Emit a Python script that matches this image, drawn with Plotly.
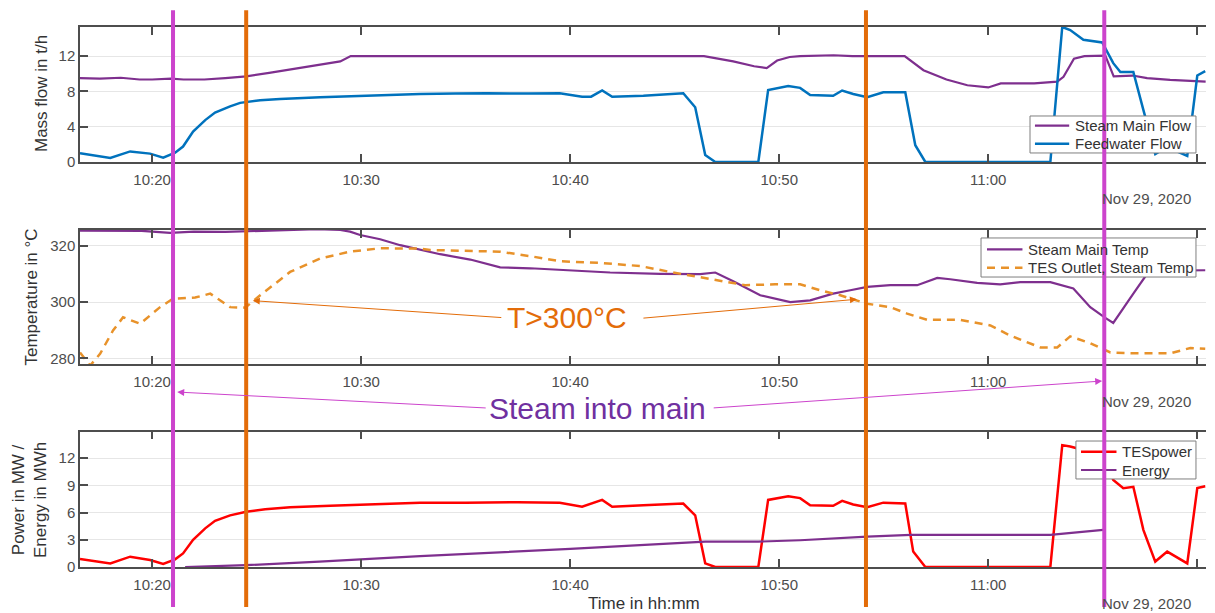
import numpy as np
import pandas as pd
import plotly.graph_objects as go

# ---- time base: values below are minutes after 10:00 on 29 Nov 2020 ----
BASE = pd.Timestamp("2020-11-29 10:00:00")


def to_time(minutes):
    return BASE + pd.to_timedelta(np.asarray(minutes, dtype=float), unit="min")


def ts(minutes):
    return (BASE + pd.to_timedelta(minutes, unit="min")).strftime("%Y-%m-%d %H:%M:%S")


# ---- mass flow panel ----
flow_t = [16.55, 17.5, 18.5, 19.4, 20.0, 20.9, 21.5, 22.5, 23.5, 24.5, 25.6, 26.6,
          27.5, 28.0, 29.0, 29.5, 30.0, 35.0, 40.0, 46.4, 47.8, 48.8, 49.4, 49.9,
          50.5, 51.0, 52.6, 53.5, 56.0, 56.9, 58.0, 59.0, 60.0, 60.6, 62.2, 63.3,
          63.6, 64.1, 64.6, 65.6, 66.0, 66.9, 67.6, 68.7, 70.4]
steam_main_flow = [9.5, 9.45, 9.55, 9.35, 9.35, 9.45, 9.35, 9.35, 9.5, 9.7, 10.1, 10.5,
                   10.8, 11.0, 11.4, 12.0, 12.0, 12.0, 12.0, 12.0, 11.4, 10.85, 10.65, 11.5,
                   11.9, 12.0, 12.1, 12.0, 12.0, 10.4, 9.35, 8.7, 8.45, 8.9, 8.9, 9.1,
                   9.65, 11.7, 12.0, 12.05, 9.7, 9.8, 9.5, 9.3, 9.1]

fw_t = [16.55, 18.0, 18.95, 19.9, 20.53, 21.1, 21.48, 21.96, 22.54, 23.01, 23.73, 24.21,
        25.17, 26.12, 28.04, 29.95, 32.82, 34.5, 36.0, 38.0, 39.5, 40.57, 41.0, 41.53,
        42.01, 43.5, 45.41, 45.98, 46.46, 46.94, 49.0, 49.47, 50.43, 51.0, 51.48, 52.58,
        53.01, 53.54, 54.21, 54.98, 56.03, 56.51, 56.99, 62.97, 63.54, 63.92, 64.55, 65.45,
        65.98, 66.32, 66.94, 67.42, 67.99, 68.56, 69.52, 70.0, 70.38]
feedwater_flow = [1.0, 0.45, 1.2, 0.95, 0.5, 1.05, 1.75, 3.45, 4.75, 5.6, 6.3, 6.7,
                  7.0, 7.15, 7.35, 7.5, 7.7, 7.75, 7.8, 7.75, 7.8, 7.4, 7.4, 8.1,
                  7.4, 7.5, 7.8, 6.2, 0.8, 0.0, 0.0, 8.15, 8.6, 8.4, 7.6, 7.5,
                  8.1, 7.7, 7.35, 7.9, 7.9, 1.9, 0.0, 0.0, 15.3, 14.95, 13.85, 13.55,
                  11.2, 10.2, 10.2, 5.9, 0.9, 1.7, 0.7, 9.8, 10.3]

# ---- temperature panel ----
tmain_t = [16.55, 18.0, 19.5, 20.86, 22.0, 23.5, 24.7, 26.0, 27.08, 27.89, 29.0, 29.47,
           29.95, 30.91, 31.87, 32.82, 33.78, 35.22, 36.65, 38.09, 40.0, 41.91, 44.31, 46.22,
           46.94, 47.8, 49.09, 50.53, 51.48, 52.58, 53.4, 54.21, 55.31, 56.6, 57.56, 58.18,
           59.47, 60.57, 61.53, 62.97, 64.07, 64.88, 65.6, 65.98, 66.94, 67.61, 68.5, 70.38]
steam_main_temp = [325.4, 325.3, 325.3, 324.6, 325.0, 324.9, 325.1, 325.4, 325.6, 325.9, 325.6, 325.0,
                   323.8, 322.3, 320.2, 318.5, 317.0, 315.1, 312.3, 312.0, 311.3, 310.5, 310.0, 309.9,
                   310.5, 307.4, 302.4, 300.0, 300.6, 303.0, 304.2, 305.4, 306.0, 306.0, 308.6, 308.1,
                   306.8, 306.3, 307.1, 307.1, 304.8, 298.2, 294.4, 292.6, 303.0, 310.1, 311.2, 311.3]

tes_t = [16.55, 17.03, 17.51, 18.13, 18.61, 19.43, 20.38, 21.0, 22.06, 22.78, 23.73, 24.45,
         25.17, 26.6, 28.04, 29.47, 30.91, 32.82, 33.3, 35.22, 36.65, 38.09, 39.52, 41.44,
         43.35, 44.78, 46.22, 47.18, 48.37, 49.81, 51.0, 51.96, 52.92, 54.21, 55.31, 56.12,
         57.08, 58.66, 60.1, 61.05, 62.49, 63.3, 63.92, 64.88, 65.84, 66.94, 68.71, 69.67,
         70.38]
tes_outlet_temp = [282.1, 277.4, 281.6, 289.9, 294.6, 292.3, 298.2, 301.2, 301.6, 303.0, 298.2, 298.0,
                   302.4, 310.7, 315.5, 317.9, 319.1, 319.0, 318.5, 318.1, 317.9, 316.3, 314.5, 313.9,
                   312.8, 310.7, 308.9, 307.5, 306.0, 306.3, 306.3, 304.2, 302.4, 299.4, 298.2, 295.9,
                   293.7, 293.7, 291.7, 288.1, 283.9, 283.9, 287.8, 285.4, 282.1, 281.8, 281.8, 283.7,
                   283.4]

# ---- power / energy panel ----
pw_t = [16.55, 18.0, 18.95, 19.9, 20.53, 21.1, 21.48, 21.96, 22.54, 23.01, 23.73, 24.5,
        25.41, 26.6, 28.52, 30.43, 32.82, 35.0, 37.5, 39.5, 40.57, 41.53, 42.01, 43.5,
        45.41, 45.98, 46.46, 46.94, 49.0, 49.47, 50.43, 51.0, 51.48, 52.58, 53.01, 53.54,
        54.21, 54.98, 56.03, 56.41, 56.99, 62.97, 63.54, 63.92, 64.55, 65.45, 65.98, 66.46,
        66.94, 67.42, 67.99, 68.56, 69.52, 70.0, 70.38]
tes_power = [0.88, 0.4, 1.14, 0.77, 0.33, 0.85, 1.5, 3.0, 4.26, 5.1, 5.7, 6.1,
             6.36, 6.6, 6.76, 6.9, 7.1, 7.1, 7.15, 7.1, 6.65, 7.4, 6.65, 6.8,
             7.0, 5.7, 0.4, 0.0, 0.0, 7.4, 7.8, 7.6, 6.8, 6.76, 7.3, 6.9,
             6.6, 7.1, 7.0, 1.7, 0.0, 0.0, 13.45, 13.3, 12.9, 12.5, 9.6, 8.7,
             8.85, 4.1, 0.6, 1.7, 0.4, 8.7, 8.9]

en_t = [21.58, 23.0, 24.5, 28.0, 32.82, 40.0, 46.46, 49.0, 51.0, 54.21, 56.3, 62.97, 65.5]
energy = [0.0, 0.06, 0.2, 0.6, 1.2, 2.0, 2.8, 2.8, 2.95, 3.35, 3.55, 3.55, 4.1]

# ---- event markers ----
steam_into_main_t = [21.0, 65.55]
above_300_t = [24.5, 54.15]

X_RANGE = [ts(16.55), ts(70.43)]

PURPLE = "#7E2F8E"
BLUE = "#0072BD"
RED = "#FF0000"
DASH_ORANGE = "#E8922A"
MARK_ORANGE = "#E36C09"
MAGENTA = "#CC44CC"
TEXT_PURPLE = "#7030A0"
AX = "#4d4d4d"
FONT = "Liberation Sans, Arial, sans-serif"

series_style = {
    "Steam Main Flow": dict(color=PURPLE, width=2.2),
    "Feedwater Flow": dict(color=BLUE, width=2.5),
    "Steam Main Temp": dict(color=PURPLE, width=2.2),
    "TES Outlet, Steam Temp": dict(color=DASH_ORANGE, width=2.5, dash="8px,6px"),
    "TESpower": dict(color=RED, width=2.5),
    "Energy": dict(color=PURPLE, width=2.2),
}

fig = go.Figure()

traces = [
    (flow_t, steam_main_flow, "Steam Main Flow", "x", "y"),
    (fw_t, feedwater_flow, "Feedwater Flow", "x", "y"),
    (tmain_t, steam_main_temp, "Steam Main Temp", "x2", "y2"),
    (tes_t, tes_outlet_temp, "TES Outlet, Steam Temp", "x2", "y2"),
    (pw_t, tes_power, "TESpower", "x3", "y3"),
    (en_t, energy, "Energy", "x3", "y3"),
]
for t, v, name, xa, ya in traces:
    fig.add_trace(go.Scatter(x=to_time(t), y=v, name=name, mode="lines",
                             line=series_style[name], xaxis=xa, yaxis=ya))

tickfont = dict(family=FONT, size=15, color=AX)

xcommon = dict(type="date", range=X_RANGE, tickformat="%H:%M", dtick=600000,
               tick0="2020-11-29 10:00:00", ticks="inside", ticklen=8, tickwidth=1.5,
               tickcolor=AX, showline=True, linecolor=AX, linewidth=1.5, mirror="ticks",
               showgrid=False, zeroline=False, tickfont=tickfont, ticklabelstandoff=3)
ycommon = dict(ticks="inside", ticklen=8, tickwidth=1.5, tickcolor=AX, showline=True,
               linecolor=AX, linewidth=1.5, mirror=False, showgrid=True,
               gridcolor="#e6e6e6", gridwidth=1, zeroline=False, tickfont=tickfont)

fig.update_layout(
    width=1215, height=613,
    margin=dict(l=80, r=9, t=27, b=46),
    paper_bgcolor="white", plot_bgcolor="white",
    font=dict(family=FONT, color=AX),
    showlegend=False,
    xaxis=dict(domain=[0, 1], anchor="y", **xcommon),
    xaxis2=dict(domain=[0, 1], anchor="y2", **xcommon),
    xaxis3=dict(domain=[0, 1], anchor="y3", **xcommon),
    yaxis=dict(domain=[0.75, 1.0], anchor="x", range=[0, 15.3], tickvals=[0, 4, 8, 12], **ycommon),
    yaxis2=dict(domain=[0.3759, 0.6241], anchor="x2", range=[278.0, 325.6],
                tickvals=[280, 300, 320], **ycommon),
    yaxis3=dict(domain=[0, 0.2506], anchor="x3", range=[0, 14.93],
                tickvals=[0, 3, 6, 9, 12], **ycommon),
)

annotations = []
legend_font = dict(family=FONT, size=15, color="#333333")

# boxed legends in the upper right corner of each panel
legend_boxes = [
    # (box x0, x1, y0, y1, sample x0, x1, text x, [(row y, name), ...])
    (0.8437, 0.9911, 0.7667, 0.8352, 0.8481, 0.8785, 0.8818,
     [(0.8172, "Steam Main Flow"), (0.7840, "Feedwater Flow")]),
    (0.8002, 0.9911, 0.5370, 0.6093, 0.8055, 0.8370, 0.8401,
     [(0.5883, "Steam Main Temp"), (0.5543, "TES Outlet, Steam Temp")]),
    (0.8845, 0.9911, 0.1630, 0.2333, 0.8890, 0.9205, 0.9236,
     [(0.2135, "TESpower"), (0.1796, "Energy")]),
]
for bx0, bx1, by0, by1, sx0, sx1, tx, rows in legend_boxes:
    fig.add_shape(type="rect", xref="paper", yref="paper", x0=bx0, x1=bx1, y0=by0, y1=by1,
                  fillcolor="white", line=dict(color="#7f7f7f", width=1), layer="above")
    for ry, name in rows:
        fig.add_shape(type="line", xref="paper", yref="paper", x0=sx0, x1=sx1, y0=ry, y1=ry,
                      line=series_style[name], layer="above")
        annotations.append(dict(text=name, xref="paper", yref="paper", x=tx, y=ry,
                                xanchor="left", yanchor="middle", showarrow=False,
                                font=legend_font))

# vertical event markers spanning all three panels
for t in steam_into_main_t:
    fig.add_shape(type="line", xref="x", yref="paper", x0=ts(t), x1=ts(t),
                  y0=-0.074, y1=1.031, line=dict(color=MAGENTA, width=4), layer="above")
for t in above_300_t:
    fig.add_shape(type="line", xref="x", yref="paper", x0=ts(t), x1=ts(t),
                  y0=-0.074, y1=1.031, line=dict(color=MARK_ORANGE, width=4), layer="above")

title_font = dict(family=FONT, size=17, color="#333333")
annotations += [
    dict(text="Mass flow in t/h", xref="paper", yref="paper", x=-0.0337, y=0.876,
         xanchor="center", yanchor="middle", textangle=-90, showarrow=False, font=title_font),
    dict(text="Temperature in °C", xref="paper", yref="paper", x=-0.0426, y=0.499,
         xanchor="center", yanchor="middle", textangle=-90, showarrow=False, font=title_font),
    dict(text="Power in MW /<br>Energy in MWh", xref="paper", yref="paper", x=-0.0453, y=0.124,
         xanchor="center", yanchor="middle", textangle=-90, showarrow=False, font=title_font),
    dict(text="Time in hh:mm", xref="paper", yref="paper", x=0.5009, y=-0.0667,
         xanchor="center", yanchor="middle", showarrow=False, font=title_font),
]
for yv in [0.6815, 0.3056, -0.0667]:
    annotations.append(dict(text="Nov 29, 2020", xref="paper", yref="paper", x=0.9885, y=yv,
                            xanchor="right", yanchor="middle", showarrow=False, font=tickfont))

# T>300°C label with arrows to the crossing points
annotations += [
    dict(text="T>300°C", xref="x2", yref="y2", x=ts(39.86), y=294.6, showarrow=False,
         xanchor="center", yanchor="middle",
         font=dict(family=FONT, size=30, color=MARK_ORANGE)),
    dict(text="", xref="x2", yref="y2", x=ts(24.83), y=300.5, ax=250, ay=17,
         showarrow=True, arrowhead=2, arrowsize=1.4, arrowwidth=1, arrowcolor=MARK_ORANGE),
    dict(text="", xref="x2", yref="y2", x=ts(53.73), y=301.0, ax=-215, ay=19,
         showarrow=True, arrowhead=2, arrowsize=1.4, arrowwidth=1, arrowcolor=MARK_ORANGE),
    dict(text="Steam into main", xref="x2", yref="paper", x=ts(41.3), y=0.2926, showarrow=False,
         xanchor="center", yanchor="middle",
         font=dict(family=FONT, size=30, color=TEXT_PURPLE)),
    dict(text="", xref="x2", yref="paper", x=ts(21.2), y=0.324, ax=310, ay=16,
         showarrow=True, arrowhead=2, arrowsize=1.4, arrowwidth=1, arrowcolor=MAGENTA),
    dict(text="", xref="x2", yref="paper", x=ts(65.45), y=0.3444, ax=-390, ay=27,
         showarrow=True, arrowhead=2, arrowsize=1.4, arrowwidth=1, arrowcolor=MAGENTA),
]
fig.update_layout(annotations=annotations)

fig.write_html("out.html")
